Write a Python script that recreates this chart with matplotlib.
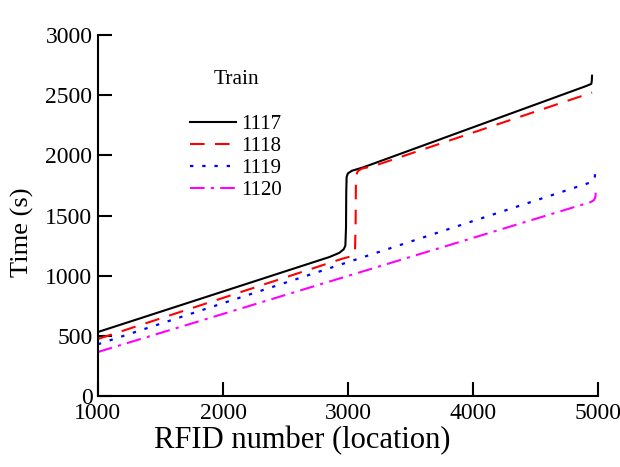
import matplotlib as mpl
mpl.use('Agg')
import matplotlib.pyplot as plt

plt.rcParams['font.family'] = ['Liberation Serif', 'DejaVu Serif']

# travel time of each train at every RFID location
x_1117 = [1000, 2850, 2930, 2965, 2978, 2983, 2985, 2988, 2998, 3030, 3120, 4900, 4944, 4948, 4950]
y_1117 = [532, 1155, 1190, 1220, 1250, 1400, 1700, 1820, 1850, 1872, 1900, 2575, 2594, 2620, 2662]
x_1118 = [1000, 2950, 3020, 3045, 3055, 3060, 3062, 3066, 3078, 3110, 3200, 4950]
y_1118 = [474, 1140, 1160, 1175, 1200, 1450, 1750, 1840, 1870, 1890, 1910, 2522]
x_1119 = [1000, 4950, 4965, 4972, 4976]
y_1119 = [430, 1779, 1790, 1820, 1865]
x_1120 = [1000, 4940, 4965, 4975, 4978, 4980]
y_1120 = [366, 1612, 1628, 1648, 1670, 1690]

trains = ['1117', '1118', '1119', '1120']

fig = plt.figure(figsize=(6.2, 4.67), dpi=100)
ax = fig.add_axes([0.158, 0.152, 0.807, 0.773])

ax.plot(x_1117, y_1117, color='black', linestyle='-', linewidth=1.5, label=trains[0])
ax.plot(x_1118, y_1118, color='red', linestyle=(0, (7, 5)), linewidth=1.5, label=trains[1])
ax.plot(x_1119, y_1119, color='blue', linestyle=(0, (1.5, 4)), linewidth=1.6, label=trains[2])
ax.plot(x_1120, y_1120, color='magenta', linestyle=(0, (7, 3, 1.5, 3)), linewidth=1.5, label=trains[3])

ax.set_xlim(1000, 5000)
ax.set_ylim(0, 3000)
ax.set_xticks([1000, 2000, 3000, 4000, 5000])
ax.set_yticks([0, 500, 1000, 1500, 2000, 2500, 3000])
ax.spines['right'].set_color('none')
ax.spines['top'].set_color('none')
ax.spines['bottom'].set_linewidth(1.5)
ax.spines['left'].set_linewidth(1.5)
ax.tick_params(direction='in', length=10, width=1.5, labelsize=17)
ax.tick_params(axis='x', pad=5)
ax.tick_params(axis='y', pad=4)

ax.set_xlabel('RFID number (location)', fontsize=22)
ax.set_ylabel('Time (s)', fontsize=19)
ax.xaxis.set_label_coords(0.408, -0.082)
ax.yaxis.set_label_coords(-0.128, 0.454)

leg = ax.legend(title='Train', loc='upper left', bbox_to_anchor=(180 / 620, 1 - 60 / 467),
                bbox_transform=fig.transFigure, borderpad=0,
                frameon=False, fontsize=15, title_fontsize=15.5,
                handlelength=2.2, handletextpad=0.25, labelspacing=0.12)
leg._legend_box.sep = 18

fig.savefig('out.png', dpi=100)
